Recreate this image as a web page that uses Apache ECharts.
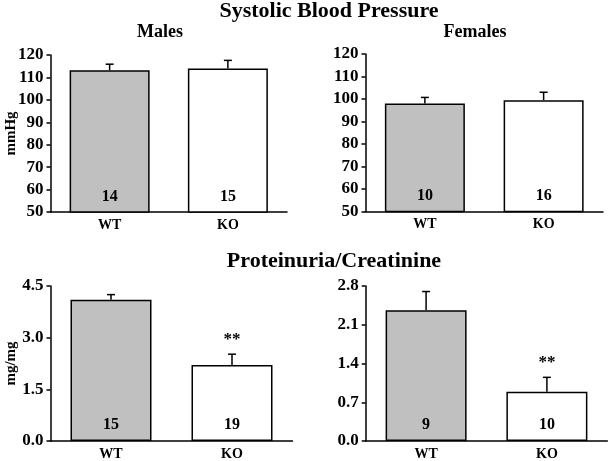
<!DOCTYPE html>
<html><head><meta charset="utf-8">
<script src="https://cdn.jsdelivr.net/npm/echarts@6/dist/echarts.min.js"></script>
<style>html,body{margin:0;padding:0;background:#fff}#c{width:609px;height:461px}</style>
</head><body><div id="c"></div>
<script>
const categories = ['WT', 'KO'];
const malesBP = [113.2, 114.0];
const malesBPErr = [2.7, 3.6];
const malesN = ['14', '15'];
const femalesBP = [98.0, 99.5];
const femalesBPErr = [2.7, 3.5];
const femalesN = ['10', '16'];
const maleProt = [4.10, 2.21];
const maleProtErr = [0.15, 0.31];
const maleProtN = ['15', '19'];
const maleProtSig = ['', '**'];
const femProt = [2.36, 0.89];
const femProtErr = [0.34, 0.26];
const femProtN = ['9', '10'];
const femProtSig = ['', '**'];
const bpTicks = {min: 50, max: 120, interval: 10};
const protTicksL = {min: 0, max: 4.5, interval: 1.5};
const protTicksR = {min: 0, max: 2.8, interval: 0.7};

const FONT = '"Liberation Serif", "DejaVu Serif", serif';
const fills = ['#c0c0c0', '#ffffff'];

const grids = [
  {left: 50.5, top: 55, width: 236.5, height: 157},
  {left: 365.5, top: 54, width: 237.5, height: 157.5},
  {left: 50.5, top: 286, width: 242, height: 157.3},
  {left: 365.7, top: 286, width: 241.6, height: 157.3}
];

function xAxisFor(g) {
  return {
    type: 'category', gridIndex: g, data: categories,
    axisLine: {lineStyle: {color: '#000', width: 1.5}},
    axisTick: {show: false},
    axisLabel: {color: '#000', fontFamily: FONT, fontWeight: 'bold', fontSize: 14, margin: 6}
  };
}
function yAxisFor(g, t, dec, name) {
  return {
    type: 'value', gridIndex: g, min: t.min, max: t.max, interval: t.interval,
    name: name || '', nameLocation: 'middle', nameGap: 32, nameMoveOverlap: false,
    nameTextStyle: {color: '#000', fontFamily: FONT, fontWeight: 'bold', fontSize: 15},
    axisLine: {show: true, lineStyle: {color: '#000', width: 1.5}},
    axisTick: {show: true, inside: false, length: 4, lineStyle: {color: '#000', width: 1.5}},
    splitLine: {show: false},
    axisLabel: {color: '#000', fontFamily: FONT, fontWeight: 'bold', fontSize: 17, margin: 7,
      formatter: v => dec ? v.toFixed(dec) : String(v)}
  };
}
function barSeries(g, means, ns, bw) {
  return {
    type: 'bar', xAxisIndex: g, yAxisIndex: g, barWidth: bw,
    data: means.map((v, i) => ({
      value: v,
      itemStyle: {color: fills[i], borderColor: '#000', borderWidth: 1.5},
      label: {show: true, position: 'insideBottom', distance: 8, formatter: ns[i],
        color: '#000', fontFamily: FONT, fontWeight: 'bold', fontSize: 16}
    })),
    z: 2
  };
}
function errSeries(g, means, errs, sig) {
  return {
    type: 'custom', xAxisIndex: g, yAxisIndex: g, z: 3,
    data: means.map((v, i) => [i, v, v + errs[i], (sig && sig[i]) || '']),
    renderItem: function (params, api) {
      const p0 = api.coord([api.value(0), api.value(1)]);
      const p1 = api.coord([api.value(0), api.value(2)]);
      const s = (sig && sig[params.dataIndex]) || '';
      const st = {stroke: '#000', lineWidth: 1.5};
      const ch = [
        {type: 'line', shape: {x1: p0[0], y1: p0[1], x2: p1[0], y2: p1[1]}, style: st},
        {type: 'line', shape: {x1: p1[0] - 4, y1: p1[1], x2: p1[0] + 4, y2: p1[1]}, style: st}
      ];
      if (s) {
        ch.push({type: 'text', x: p1[0], y: p1[1] - 6,
          style: {text: s, fill: '#000', font: 'bold 17px ' + FONT, textAlign: 'center', textVerticalAlign: 'bottom'}});
      }
      return {type: 'group', children: ch};
    }
  };
}
function titleAt(text, x, y, size) {
  return {text: text, left: x, top: y, textAlign: 'center', padding: 0,
    textStyle: {color: '#000', fontFamily: FONT, fontWeight: 'bold', fontSize: size}};
}

const chart = echarts.init(document.getElementById('c'), null, {renderer: 'canvas'});
chart.setOption({
  backgroundColor: '#fff',
  animation: false,
  title: [
    titleAt('Systolic Blood Pressure', 329, 0, 22),
    titleAt('Males', 160, 23, 18),
    titleAt('Females', 475, 23, 18),
    titleAt('Proteinuria/Creatinine', 334, 250, 22)
  ],
  grid: grids,
  xAxis: [xAxisFor(0), xAxisFor(1), xAxisFor(2), xAxisFor(3)],
  yAxis: [
    yAxisFor(0, bpTicks, 0, 'mmHg'),
    yAxisFor(1, bpTicks, 0),
    yAxisFor(2, protTicksL, 1, 'mg/mg'),
    yAxisFor(3, protTicksR, 1)
  ],
  series: [
    barSeries(0, malesBP, malesN, 80), errSeries(0, malesBP, malesBPErr),
    barSeries(1, femalesBP, femalesN, 80), errSeries(1, femalesBP, femalesBPErr),
    barSeries(2, maleProt, maleProtN, 81), errSeries(2, maleProt, maleProtErr, maleProtSig),
    barSeries(3, femProt, femProtN, 81), errSeries(3, femProt, femProtErr, femProtSig)
  ]
});
</script></body></html>
